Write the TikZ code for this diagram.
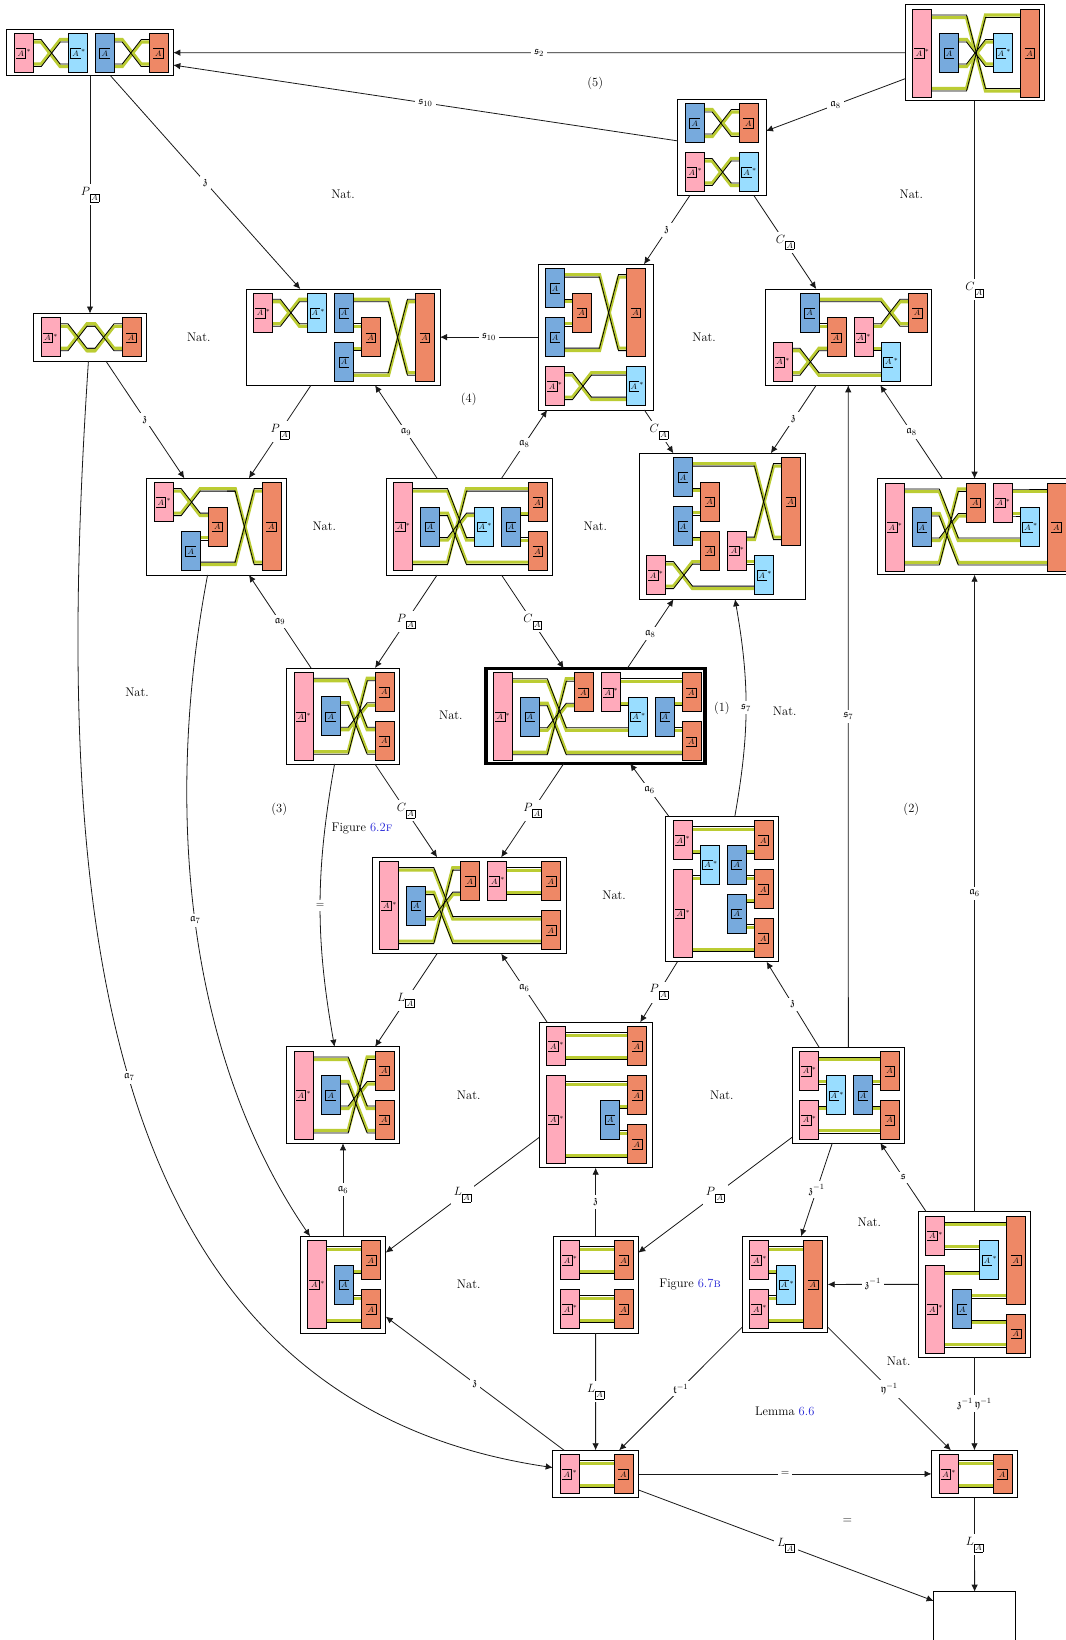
\documentclass[tikz,border=0pt]{standalone}
\usepackage{amssymb}
\usetikzlibrary{arrows.meta}
\definecolor{colP}{HTML}{FFAABB}
\definecolor{colL}{HTML}{99DDFF}
\definecolor{colB}{HTML}{77AADD}
\definecolor{colO}{HTML}{EE8866}
\definecolor{colG}{HTML}{BBCC33}
\definecolor{refblue}{RGB}{35,35,215}
\tikzset{
  frm/.style={draw=black,fill=white,line width=1pt,inner sep=0pt,outer sep=0pt,anchor=north west},
  dbox/.style={draw=black,line width=.8pt,inner sep=0pt,outer sep=0pt,minimum width=19pt,anchor=north west},
  atext/.style={inner sep=0pt,outer sep=0pt,font=\fontsize{8}{9}\selectfont},
  stext/.style={inner sep=0pt,outer sep=0pt,font=\fontsize{7}{8}\selectfont},
  corner/.style={line width=.45pt},
  arr/.style={-{Latex[length=7pt,width=6.5pt]},line width=.8pt,black!90},
  lbl/.style={fill=white,inner sep=3.2pt,text=black,font=\fontsize{10.95}{13}\selectfont},
  note/.style={inner sep=0pt,font=\fontsize{12.5}{14}\selectfont},
}
\newcommand\subA{{\fboxsep=1pt\fboxrule=.4pt\raisebox{-5pt}{\fbox{\fontsize{8}{9}\selectfont$A$}}}}
\newcommand\Fc[1]{{\fontsize{12}{14}\selectfont$#1$}\subA}
% label text inside a box; the four kinds of box
\newcommand\drawAP[3]{\node[atext] (#1-a) at (#2-3,#3) {$A$};
  \draw[corner] (#2-8,#3-4.7) -- (#2+2,#3-4.7) -- (#2+2,#3+4.7) -- (#2-8,#3+4.7);
  \node[stext] (#1-s) at (#2+5,#3-2.2) {$*$};}
\newcommand\drawAL[3]{\node[atext] (#1-a) at (#2-2.2,#3) {$A$};
  \draw[corner] (#2+2.8,#3-4.7) -- (#2-7.2,#3-4.7) -- (#2-7.2,#3+4.7) -- (#2+2.8,#3+4.7);
  \node[stext] (#1-s) at (#2+5.4,#3-2.2) {$*$};}
\newcommand\drawAB[3]{\node[atext] (#1-a) at (#2,#3) {$A$};
  \draw[corner] (#2+5,#3-4.7) -- (#2-5,#3-4.7) -- (#2-5,#3+4.7) -- (#2+5,#3+4.7);}
\newcommand\drawAO[3]{\node[atext] (#1-a) at (#2-.5,#3) {$A$};
  \draw[corner] (#2-5.5,#3-4.7) -- (#2+4.5,#3-4.7) -- (#2+4.5,#3+4.7) -- (#2-5.5,#3+4.7);}
% [options]{name}{x0}{y0}{x1}{y1}{type/col/row/extra rows}{left col/level/crossing col/level/right col/sign}
\newcommand\Dg[8][]{%
  \node[frm,#1,minimum width={(#5-#3)*1pt},minimum height={(#6-#4)*1pt}] (#2) at (#3,#4) {};
  \begin{scope}[shift={(#3,#4)}]
    \foreach \wA/\wK/\wC/\wL/\wB/\wS in {#8} {
      \pgfmathsetmacro\xS{7.5+27*\wA+19}\pgfmathsetmacro\xC{7.5+27*\wC}
      \pgfmathsetmacro\xD{\xC+19}\pgfmathsetmacro\xE{7.5+27*\wB}
      \pgfmathsetmacro\yS{11.55+24.5*\wK-1.25*\wS}\pgfmathsetmacro\yE{11.55+24.5*\wL-1.25*\wS}
      \draw[colG,line width=3.2pt] (\xS,\yS) -- (\xC,\yS) -- (\xD,\yE) -- (\xE,\yE);
    }
    \foreach \wA/\wK/\wC/\wL/\wB/\wS in {#8} {
      \pgfmathsetmacro\xS{7.5+27*\wA+19}\pgfmathsetmacro\xC{7.5+27*\wC}
      \pgfmathsetmacro\xD{\xC+19}\pgfmathsetmacro\xE{7.5+27*\wB}
      \pgfmathsetmacro\yS{11.55+24.5*\wK+1.25*\wS}\pgfmathsetmacro\yE{11.55+24.5*\wL+1.25*\wS}
      \draw[black,line width=.8pt] (\xS,\yS) -- (\xC,\yS) -- (\xD,\yE) -- (\xE,\yE);
    }
    \foreach \bT/\bC/\bR/\bH in {#7} {
      \pgfmathsetmacro\xB{7.5+27*\bC}\pgfmathsetmacro\yB{4.3+24.5*\bR}
      \pgfmathsetmacro\xM{\xB+9.5}\pgfmathsetmacro\yM{\yB+19.5+12.25*\bH+.3}
      \node[dbox,fill=col\bT,minimum height={(39+24.5*\bH)*1pt}] (#2-\bC-\bR) at (\xB,\yB) {};
      \csname drawA\bT\endcsname{#2-\bC-\bR}{\xM}{\yM}
    }
  \end{scope}
}
\begin{document}
\begin{tikzpicture}[x=1pt,y=-1pt]
\useasboundingbox (0,0) rectangle (1065,1640);
\Dg{Fa}{6.7}{29.3}{173.3}{76}{P/0/0/0,L/2/0/0,B/3/0/0,O/5/0/0}{0/0/1/1/2/-1,0/1/1/0/2/1,3/0/4/1/5/1,3/1/4/0/5/-1}
\Dg{Fb}{905}{4.7}{1044}{100.7}{P/0/0/2,B/1/1/0,L/3/1/0,O/4/0/2}{0/0/2/3/4/-1,0/3/2/0/4/1,1/1/2/2/3/1,1/2/2/1/3/-1}
\Dg{Fc}{677.7}{99.3}{766}{195.7}{B/0/0/0,O/2/0/0,P/0/2/0,L/2/2/0}{0/0/1/1/2/1,0/1/1/0/2/-1,0/2/1/3/2/-1,0/3/1/2/2/1}
\Dg{Fd}{33.5}{313.5}{146.5}{361}{P/0/0/0,O/3/0/0}{0/0/1/1/2/-1,1/1/2/0/3/-1,0/1/1/0/2/1,1/0/2/1/3/1}
\Dg{Fe}{246}{289}{440}{385.3}{P/0/0/0,L/2/0/0,B/3/0/0,O/4/1/0,B/3/2/0,O/6/0/2}{0/0/1/1/2/-1,0/1/1/0/2/1,3/0/5/3/6/1,3/3/5/0/6/-1,3/1/3/1/4/-1,3/2/3/2/4/1}
\Dg{Ff}{538}{264.3}{653}{410}{B/0/0/0,O/1/1/0,B/0/2/0,O/3/0/2,P/0/4/0,L/3/4/0}{0/0/2/3/3/1,0/3/2/0/3/-1,0/1/0/1/1/-1,0/2/0/2/1/1,0/4/1/5/3/-1,0/5/1/4/3/1}
\Dg{Fg}{765.5}{289}{931}{385.3}{B/1/0/0,P/0/2/0,O/2/1/0,P/3/1/0,L/4/2/0,O/5/0/0}{1/0/4/1/5/1,1/1/1/1/2/-1,3/1/4/0/5/-1,3/2/3/2/4/1,0/2/1/3/4/-1,0/3/1/2/2/1}
\Dg{Fh}{146.7}{478.3}{286.7}{575}{P/0/0/0,O/2/1/0,B/1/2/0,O/4/0/2}{0/0/1/1/2/-1,0/1/1/0/3/1,2/0/3/3/4/1,1/2/1/2/2/1,1/3/3/0/4/-1}
\Dg{Fi}{386}{478.3}{552.7}{575}{P/0/0/2,B/1/1/0,L/3/1/0,B/4/1/0,O/5/0/0,O/5/2/0}{0/0/2/2/3/-1,0/3/2/0/5/1,1/1/2/3/5/1,1/2/2/1/3/-1,4/1/4/1/5/1,4/2/4/2/5/-1}
\Dg{Fj}{639}{453.3}{805.5}{599.3}{B/1/0/0,O/2/1/0,B/1/2/0,O/2/3/0,P/3/3/0,P/0/4/0,L/4/4/0,O/5/0/2}{1/0/4/3/5/1,3/3/4/0/5/-1,1/1/1/1/2/-1,1/2/1/2/2/1,1/3/1/3/2/-1,3/4/3/4/4/1,0/4/1/5/4/-1,0/5/1/4/2/1}
\Dg{Fk}{877.8}{478.7}{1071.3}{574.7}{P/0/0/2,B/1/1/0,O/3/0/0,P/4/0/0,L/5/1/0,O/6/0/2}{0/0/2/2/5/-1,0/3/2/0/3/1,1/1/2/3/6/1,1/2/2/1/3/-1,4/0/4/0/6/-1,4/1/4/1/5/1}
\Dg{Fl}{286.7}{668}{399.3}{764}{P/0/0/2,B/1/1/0,O/3/0/0,O/3/2/0}{0/0/2/2/3/-1,0/3/2/0/3/1,1/1/2/3/3/1,1/2/2/1/3/-1}
\Dg[line width=3.5pt]{Fm}{485.75}{668.4}{705}{763.6}{P/0/0/2,B/1/1/0,O/3/0/0,P/4/0/0,L/5/1/0,B/6/1/0,O/7/0/0,O/7/2/0}{0/0/2/2/5/-1,0/3/2/0/3/1,1/1/2/3/7/1,1/2/2/1/3/-1,4/0/4/0/7/-1,4/1/4/1/5/1,6/1/6/1/7/1,6/2/6/2/7/-1}
\Dg{Fn}{372.3}{857.3}{566}{953.7}{P/0/0/2,B/1/1/0,O/3/0/0,P/4/0/0,O/6/0/0,O/6/2/0}{0/0/2/2/6/-1,0/3/2/0/3/1,1/1/2/3/6/1,1/2/2/1/3/-1,4/0/4/0/6/-1,4/1/4/1/6/1}
\Dg{Fo}{665.7}{816.3}{778.3}{961.7}{P/0/0/0,P/0/2/2,L/1/1/0,B/2/1/0,B/2/3/0,O/3/0/0,O/3/2/0,O/3/4/0}{0/0/0/0/3/-1,0/1/0/1/1/1,0/2/0/2/1/-1,2/1/2/1/3/1,2/2/2/2/3/-1,2/3/2/3/3/1,2/4/2/4/3/-1,0/5/0/5/3/1}
\Dg{Fp}{539.3}{1022.3}{652}{1167.7}{P/0/0/0,P/0/2/2,B/2/3/0,O/3/0/0,O/3/2/0,O/3/4/0}{0/0/0/0/3/-1,0/1/0/1/3/1,0/2/0/2/3/-1,2/3/2/3/3/1,2/4/2/4/3/-1,0/5/0/5/3/1}
\Dg{Fq}{792}{1047}{904.7}{1143}{P/0/0/0,P/0/2/0,L/1/1/0,B/2/1/0,O/3/0/0,O/3/2/0}{0/0/0/0/3/-1,0/1/0/1/1/1,0/2/0/2/1/-1,2/1/2/1/3/1,2/2/2/2/3/-1,0/3/0/3/3/1}
\Dg{Fr}{286.7}{1046.7}{399.3}{1143.3}{P/0/0/2,B/1/1/0,O/3/0/0,O/3/2/0}{0/0/2/2/3/-1,0/3/2/0/3/1,1/1/2/3/3/1,1/2/2/1/3/-1}
\Dg{Fs}{300.3}{1236.3}{385.7}{1333}{P/0/0/2,B/1/1/0,O/2/0/0,O/2/2/0}{0/0/0/0/2/-1,1/1/1/1/2/1,1/2/1/2/2/-1,0/3/0/3/2/1}
\Dg{Ft}{553}{1236.3}{638.3}{1333}{P/0/0/0,P/0/2/0,O/2/0/0,O/2/2/0}{0/0/0/0/2/-1,0/1/0/1/2/1,0/2/0/2/2/-1,0/3/0/3/2/1}
\Dg{Fu}{742.3}{1236.3}{827.7}{1332.5}{P/0/0/0,P/0/2/0,L/1/1/0,O/2/0/2}{0/0/0/0/2/-1,0/1/0/1/1/1,0/2/0/2/1/-1,0/3/0/3/2/1}
\Dg{Fv}{918.3}{1211.7}{1030.7}{1357}{P/0/0/0,P/0/2/2,L/2/1/0,B/1/3/0,O/3/0/2,O/3/4/0}{0/0/0/0/3/-1,0/1/0/1/2/1,0/2/0/2/2/-1,1/3/1/3/3/1,1/4/1/4/3/-1,0/5/0/5/3/1}
\Dg{Fw}{552.7}{1450.3}{638.5}{1497.5}{P/0/0/0,O/2/0/0}{0/0/0/0/2/-1,0/1/0/1/2/1}
\Dg{Fx}{931.5}{1450.3}{1017.4}{1497.5}{P/0/0/0,O/2/0/0}{0/0/0/0/2/-1,0/1/0/1/2/1}
\node[frm,minimum width=82.1pt,minimum height=49pt] (Fy) at (933.6,1591.7) {};

% connectors
\draw[arr] (Fb) -- node[lbl]{$\mathfrak{s}_{2}$} (Fa);
\draw[arr] (Fc) -- node[lbl]{$\mathfrak{s}_{10}$} (Fa);
\draw[arr] (Fb) -- node[lbl]{$\mathfrak{a}_{8}$} (Fc);
\draw[arr] (Fa) -- node[lbl]{\Fc{P}} (Fd);
\draw[arr] (Fa) -- node[lbl]{$\mathfrak{z}$} (Fe);
\draw[arr] (Fc) -- node[lbl]{$\mathfrak{z}$} (Ff);
\draw[arr] (Fc) -- node[lbl]{\Fc{C}} (Fg);
\draw[arr] (Fb) -- node[lbl]{\Fc{C}} (Fk);
\draw[arr] (Fd) -- node[lbl]{$\mathfrak{z}$} (Fh);
\draw[arr] (Fe) -- node[lbl]{\Fc{P}} (Fh);
\draw[arr] (Fi) -- node[lbl]{$\mathfrak{a}_{9}$} (Fe);
\draw[arr] (Fi) -- node[lbl]{$\mathfrak{a}_{8}$} (Ff);
\draw[arr] (Ff) -- node[lbl]{$\mathfrak{s}_{10}$} (Fe);
\draw[arr] (Ff) -- node[lbl]{\Fc{C}} (Fj);
\draw[arr] (Fg) -- node[lbl]{$\mathfrak{z}$} (Fj);
\draw[arr] (Fk) -- node[lbl]{$\mathfrak{a}_{8}$} (Fg);
\draw[arr] (Fl) -- node[lbl]{$\mathfrak{a}_{9}$} (Fh);
\draw[arr] (Fi) -- node[lbl]{\Fc{P}} (Fl);
\draw[arr] (Fi) -- node[lbl]{\Fc{C}} (Fm);
\draw[arr] (Fm) -- node[lbl]{$\mathfrak{a}_{8}$} (Fj);
\draw[arr] (Fl) -- node[lbl]{\Fc{C}} (Fn);
\draw[arr] (Fm) -- node[lbl]{\Fc{P}} (Fn);
\draw[arr] (Fo) -- node[lbl]{$\mathfrak{a}_{6}$} (Fm);
\draw[arr] (Fo) to[bend right=10] node[lbl]{$\mathfrak{s}_{7}$} (Fj);
\draw[arr] (Fq) -- node[lbl]{$\mathfrak{s}_{7}$} (Fg);
\draw[arr] (Fn) -- node[lbl]{\Fc{L}} (Fr);
\draw[arr] (Fp) -- node[lbl]{$\mathfrak{a}_{6}$} (Fn);
\draw[arr] (Fo) -- node[lbl]{\Fc{P}} (Fp);
\draw[arr] (Fq) -- node[lbl]{$\mathfrak{z}$} (Fo);
\draw[arr] (Fl) to[bend right=10] node[lbl]{=} (Fr);
\coordinate (hs1) at (165,800);
\coordinate (hs2) at (183,1050);
\draw[arr] (Fh) .. controls (hs1) and (hs2) .. node[lbl]{$\mathfrak{a}_{7}$} (Fs);
\coordinate (dw1) at (55,866);
\coordinate (dw2) at (76,1397);
\draw[arr] (Fd) .. controls (dw1) and (dw2) .. node[lbl]{$\mathfrak{a}_{7}$} (Fw);
\draw[arr] (Fs) -- node[lbl]{$\mathfrak{a}_{6}$} (Fr);
\draw[arr] (Fp) -- node[lbl]{\Fc{L}} (Fs);
\draw[arr] (Ft) -- node[lbl]{$\mathfrak{z}$} (Fp);
\draw[arr] (Fq) -- node[lbl]{\Fc{P}} (Ft);
\draw[arr] (Fq) -- node[lbl]{$\mathfrak{z}^{-1}$} (Fu);
\draw[arr] (Fv) -- node[lbl]{$\mathfrak{s}$} (Fq);
\draw[arr] (Fv) -- node[lbl]{$\mathfrak{z}^{-1}$} (Fu);
\draw[arr] (Fu) -- node[lbl]{$\mathfrak{t}^{-1}$} (Fw);
\draw[arr] (Fu) -- node[lbl]{$\mathfrak{y}^{-1}$} (Fx);
\draw[arr] (Fv) -- node[lbl]{$\mathfrak{z}^{-1}\,\mathfrak{y}^{-1}$} (Fx);
\draw[arr] (Fv) -- node[lbl]{$\mathfrak{a}_{6}$} (Fk);
\draw[arr] (Fw) -- node[lbl]{$\mathfrak{z}$} (Fs);
\draw[arr] (Ft) -- node[lbl]{\Fc{L}} (Fw);
\draw[arr] (Fw) -- node[lbl]{=} (Fx);
\draw[arr] (Fw) -- node[lbl]{\Fc{L}} (Fy);
\draw[arr] (Fx) -- node[lbl]{\Fc{L}} (Fy);

% region notes
\node[note] (n1) at (343,194.6) {Nat.};
\node[note] (n2) at (911.3,194.6) {Nat.};
\node[note] (n3) at (198.8,336.9) {Nat.};
\node[note] (n4) at (704.1,336.9) {Nat.};
\node[note] (n5) at (324.3,526.2) {Nat.};
\node[note] (n6) at (595.3,526.2) {Nat.};
\node[note] (n7) at (137,692.6) {Nat.};
\node[note] (n8) at (450.9,715.6) {Nat.};
\node[note] (n9) at (784.7,711.4) {Nat.};
\node[note] (n10) at (614.1,895.5) {Nat.};
\node[note] (n11) at (468.7,1095.4) {Nat.};
\node[note] (n12) at (721.9,1095.4) {Nat.};
\node[note] (n13) at (468.7,1284.7) {Nat.};
\node[note] (n14) at (869.4,1222) {Nat.};
\node[note] (n15) at (898.7,1361.1) {Nat.};
\node[note] (r5) at (595.3,83.7) {(5)};
\node[note] (r4) at (468.7,399.7) {(4)};
\node[note] (r1) at (721.9,708.3) {(1)};
\node[note] (r3) at (279.3,809.8) {(3)};
\node[note] (r2) at (911.3,809.8) {(2)};
\node[note] (f1) at (362,828.6) {Figure \textcolor{refblue}{6.2\textsc{f}}};
\node[note] (f2) at (690,1284.7) {Figure \textcolor{refblue}{6.7\textsc{b}}};
\node[note] (f3) at (784.7,1411.3) {Lemma \textcolor{refblue}{6.6}};
\node[note] (eq) at (847.4,1521.2) {=};
\end{tikzpicture}
\end{document}
